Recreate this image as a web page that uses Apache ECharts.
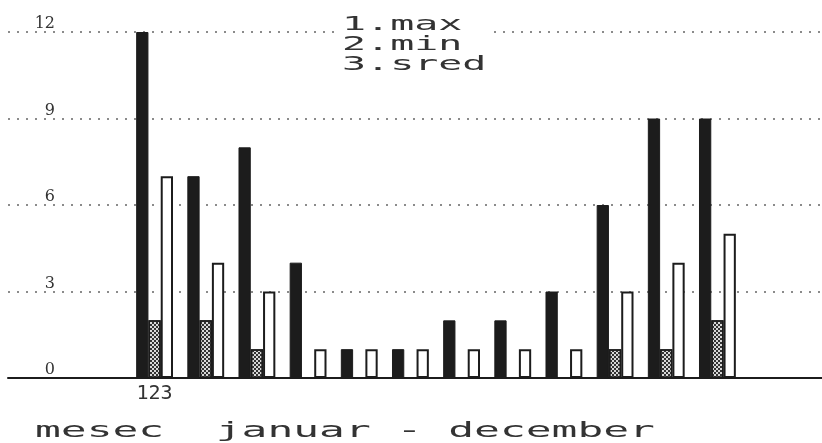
<!DOCTYPE html>
<html>
<head>
<meta charset="utf-8">
<title>mesec januar - december</title>
<script src="https://cdn.jsdelivr.net/npm/echarts@6/dist/echarts.min.js"></script>
<style>
	html, body { margin: 0; padding: 0; background: #fff; }
	#charts { width: 822px; height: 443px; }
</style>
</head>
<body>
<div id="charts"></div>
<script>
// meseci
var months = ['januar', 'februar', 'mart', 'april', 'maj', 'jun', 'jul', 'avgust', 'septembar', 'oktobar', 'novembar', 'decembar'];
// 1.max  2.min  3.sred
var maxData = [12, 7, 8, 4, 1, 1, 2, 2, 3, 6, 9, 9];
var minData = [2, 2, 1, 0, 0, 0, 0, 0, 0, 1, 1, 2];
var sredData = [7, 4, 3, 1, 1, 1, 1, 1, 1, 3, 4, 5];
var yTicks = [0, 3, 6, 9, 12];
var legendLines = ['1.max', '2.min', '3.sred'];
var titleText = 'mesec  januar - december';

var ink = '#1c1c1c';
var mono = '"DejaVu Sans Mono", monospace';

initCharts();

function initCharts(){
	var charts = echarts.init(document.getElementById('charts'), null, {renderer: 'canvas'});
	var yMin = yTicks[0], yMax = yTicks[yTicks.length - 1];
	var option = {
		animation: false,
		backgroundColor: '#fff',
		grid: [
			// okvir za mrezu i osnovnu liniju
			{left: 8, right: 0, top: 32, bottom: 65},
			// okvir za stubove
			{left: 129, right: 79, top: 32, bottom: 65}
		],
		xAxis: [{
			gridIndex: 0,
			type: 'value',
			min: 0,
			max: 1,
			axisLine: {show: true, lineStyle: {color: ink, width: 2}},
			axisTick: {show: false},
			axisLabel: {show: false},
			splitLine: {show: false}
		}, {
			gridIndex: 1,
			type: 'category',
			data: months,
			axisLine: {show: false},
			axisTick: {show: false},
			axisLabel: {
				interval: 0,
				margin: 6,
				color: '#333',
				fontFamily: mono,
				fontSize: 20,
				formatter: function (v, i) {
					return i == 0 ? '123' : '';
				}
			}
		}],
		yAxis: [{
			gridIndex: 0,
			type: 'value',
			min: yMin,
			max: yMax,
			interval: 3,
			axisLine: {show: false},
			axisTick: {show: false},
			axisLabel: {
				inside: true,
				align: 'right',
				verticalAlign: 'bottom',
				margin: 47,
				color: '#333',
				fontFamily: '"DejaVu Serif", serif',
				fontSize: 16
			},
			splitLine: {
				show: true,
				lineStyle: {color: '#666', width: 1.5, type: [2, 7]}
			}
		}, {
			gridIndex: 1,
			type: 'value',
			min: yMin,
			max: yMax,
			show: false
		}],
		series: [{
			name: 'max',
			type: 'bar',
			xAxisIndex: 1,
			yAxisIndex: 1,
			barGap: '0%',
			barCategoryGap: '28%',
			itemStyle: {color: ink, borderColor: ink, borderWidth: 1},
			data: maxData
		}, {
			name: 'min',
			type: 'bar',
			xAxisIndex: 1,
			yAxisIndex: 1,
			itemStyle: {
				color: '#d8d8d8',
				borderColor: ink,
				borderWidth: 1.5,
				decal: {
					symbol: 'rect',
					symbolSize: 1,
					color: '#333',
					dashArrayX: [[2, 2], [0, 2, 2, 0]],
					dashArrayY: [2, 0]
				}
			},
			data: minData
		}, {
			name: 'sred',
			type: 'bar',
			xAxisIndex: 1,
			yAxisIndex: 1,
			itemStyle: {color: '#fff', borderColor: ink, borderWidth: 2},
			data: sredData
		}],
		graphic: [{
			// legenda
			type: 'text',
			x: 340,
			y: 45,
			scaleX: 2.1,
			z: 100,
			style: {
				text: legendLines.join('\n'),
				font: '19px ' + mono,
				lineHeight: 20,
				fill: '#333',
				verticalAlign: 'middle',
				backgroundColor: '#fff',
				padding: [0, 1]
			}
		}, {
			// naslov ispod ose
			type: 'text',
			x: 35,
			y: 431,
			scaleX: 1.95,
			style: {
				text: titleText,
				font: '22px ' + mono,
				fill: '#333',
				verticalAlign: 'middle'
			}
		}]
	};
	charts.setOption(option);
}
</script>
</body>
</html>
